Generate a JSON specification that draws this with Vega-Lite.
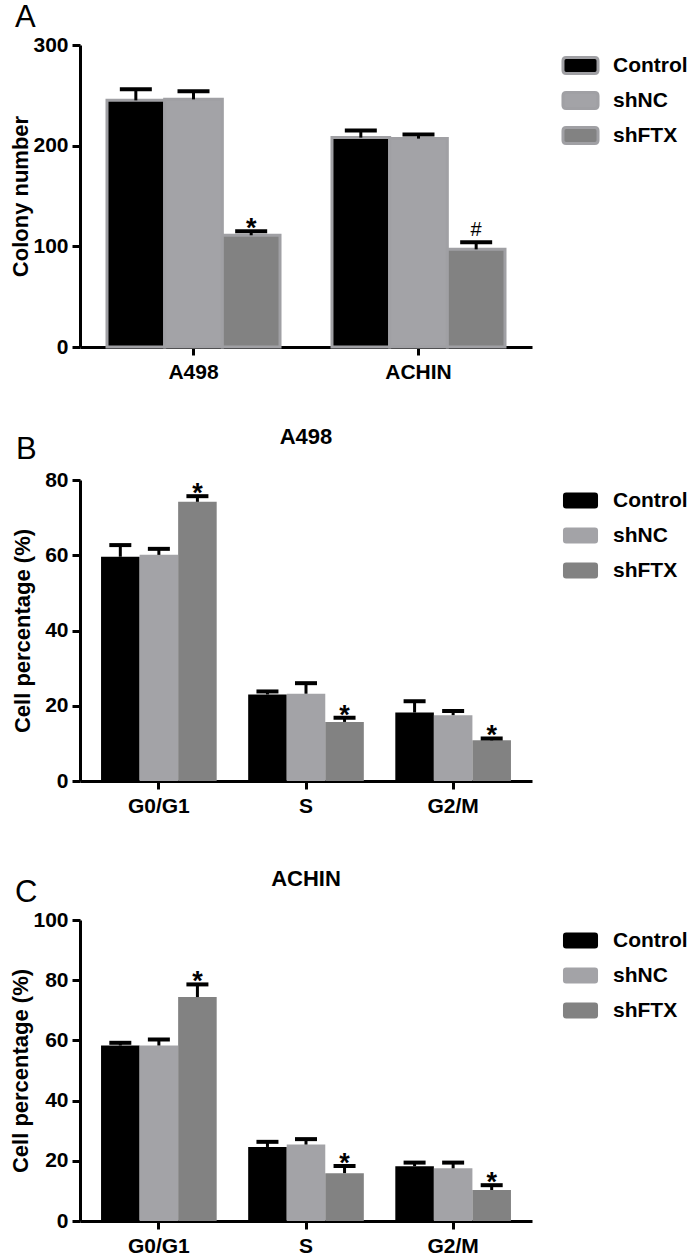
{
  "$schema": "https://vega.github.io/schema/vega-lite/v6.json",
  "padding": {"left": 9, "top": 2, "right": 0, "bottom": 0},
  "background": "white",
  "config": {
    "font": "Liberation Sans",
    "view": {"stroke": null},
    "axis": {
      "domainColor": "black", "domainWidth": 3, "tickColor": "black", "tickWidth": 3, "tickSize": 8,
      "labelFontSize": 21, "labelFontWeight": "bold", "labelColor": "black",
      "titleFontSize": 22, "titleFontWeight": "bold", "titleColor": "black", "grid": false
    },
    "legend": {
      "title": null, "orient": "right", "offset": 28, "padding": 10,
      "symbolType": "M-1.8,-1H1.8Q2.19,-1 2.19,-0.6V0.6Q2.19,1 1.8,1H-1.8Q-2.19,1 -2.19,0.6V-0.6Q-2.19,-1 -1.8,-1Z",
      "symbolSize": 256, "symbolOpacity": 1, "labelFontSize": 21, "labelFontWeight": "bold", "labelColor": "black",
      "labelOffset": 22, "rowPadding": 13, "symbolStrokeWidth": 0
    }
  },
  "resolve": {"scale": {"color": "independent", "xOffset": "independent"}, "legend": {"color": "independent"}},
  "spacing": 44,
  "datasets": {
    "colony": [
      {"cell": "A498", "group": "Control", "value": 245, "upper": 256, "sig": ""},
      {"cell": "A498", "group": "shNC", "value": 246, "upper": 254, "sig": ""},
      {"cell": "A498", "group": "shFTX", "value": 111, "upper": 115, "sig": "*"},
      {"cell": "ACHIN", "group": "Control", "value": 208, "upper": 215, "sig": ""},
      {"cell": "ACHIN", "group": "shNC", "value": 207, "upper": 211, "sig": ""},
      {"cell": "ACHIN", "group": "shFTX", "value": 97, "upper": 104, "sig": "#"}
    ],
    "a498": [
      {"phase": "G0/G1", "group": "Control", "value": 59.6, "upper": 62.7, "sig": ""},
      {"phase": "G0/G1", "group": "shNC", "value": 60.1, "upper": 61.7, "sig": ""},
      {"phase": "G0/G1", "group": "shFTX", "value": 74.2, "upper": 75.7, "sig": "*"},
      {"phase": "S", "group": "Control", "value": 23.0, "upper": 23.8, "sig": ""},
      {"phase": "S", "group": "shNC", "value": 23.2, "upper": 26.0, "sig": ""},
      {"phase": "S", "group": "shFTX", "value": 15.7, "upper": 16.8, "sig": "*"},
      {"phase": "G2/M", "group": "Control", "value": 18.2, "upper": 21.2, "sig": ""},
      {"phase": "G2/M", "group": "shNC", "value": 17.5, "upper": 18.6, "sig": ""},
      {"phase": "G2/M", "group": "shFTX", "value": 10.8, "upper": 11.3, "sig": "*"}
    ],
    "achin": [
      {"phase": "G0/G1", "group": "Control", "value": 58.3, "upper": 59.2, "sig": ""},
      {"phase": "G0/G1", "group": "shNC", "value": 58.3, "upper": 60.3, "sig": ""},
      {"phase": "G0/G1", "group": "shFTX", "value": 74.4, "upper": 78.6, "sig": "*"},
      {"phase": "S", "group": "Control", "value": 24.6, "upper": 26.3, "sig": ""},
      {"phase": "S", "group": "shNC", "value": 25.4, "upper": 27.2, "sig": ""},
      {"phase": "S", "group": "shFTX", "value": 15.9, "upper": 18.3, "sig": "*"},
      {"phase": "G2/M", "group": "Control", "value": 18.2, "upper": 19.4, "sig": ""},
      {"phase": "G2/M", "group": "shNC", "value": 17.5, "upper": 19.4, "sig": ""},
      {"phase": "G2/M", "group": "shFTX", "value": 10.3, "upper": 11.9, "sig": "*"}
    ]
  },
  "vconcat": [
    {
      "title": {"text": "A", "anchor": "start", "frame": "bounds", "fontSize": 31, "fontWeight": "normal", "color": "black", "offset": 0, "dx": 5},
      "vconcat": [
        {
          "width": 452, "height": 302,
          "data": {"name": "colony"},
          "encoding": {
            "x": {"field": "cell", "type": "nominal", "sort": ["A498", "ACHIN"],
                  "scale": {"paddingInner": 0.231, "paddingOuter": 0.12},
                  "axis": {"title": null, "labelAngle": 0, "labelPadding": 6, "minExtent": 35}},
            "xOffset": {"field": "group", "type": "nominal", "sort": ["Control", "shNC", "shFTX"],
                        "scale": {"paddingInner": 0, "paddingOuter": 0}}
          },
          "layer": [
            {
              "mark": {"type": "bar", "stroke": "#a0a0a4", "strokeWidth": 3},
              "encoding": {
                "y": {"field": "value", "type": "quantitative", "scale": {"domain": [0, 300]},
                      "axis": {"title": "Colony number", "values": [0, 100, 200, 300], "labelPadding": 4, "titlePadding": 0, "minExtent": 46}},
                "color": {"field": "group", "type": "nominal", "sort": ["Control", "shNC", "shFTX"],
                          "scale": {"domain": ["Control", "shNC", "shFTX"], "range": ["#000000", "#a3a3a7", "#828282"]},
                          "legend": {"symbolStrokeColor": "#a0a0a4", "symbolStrokeWidth": 3, "rowPadding": 6}}
              }
            },
            {
              "mark": {"type": "rule", "color": "black", "strokeWidth": 3},
              "encoding": {"y": {"field": "value", "type": "quantitative"}, "y2": {"field": "upper"}}
            },
            {
              "mark": {"type": "tick", "orient": "horizontal", "color": "black", "thickness": 4, "size": 32, "opacity": 1},
              "encoding": {"y": {"field": "upper", "type": "quantitative"}}
            },
            {
              "transform": [{"filter": "datum.sig == '*'"}],
              "mark": {"type": "text", "baseline": "alphabetic", "fontSize": 27, "fontWeight": "bold", "color": "black", "dy": 6},
              "encoding": {"y": {"field": "upper", "type": "quantitative"}, "text": {"field": "sig"}}
            },
            {
              "transform": [{"filter": "datum.sig == '#'"}],
              "mark": {"type": "text", "baseline": "alphabetic", "fontSize": 20, "fontWeight": "normal", "color": "black", "dy": -6},
              "encoding": {"y": {"field": "upper", "type": "quantitative"}, "text": {"field": "sig"}}
            }
          ]
        }
      ]
    },
    {
      "title": {"text": "B", "anchor": "start", "frame": "bounds", "fontSize": 31, "fontWeight": "normal", "color": "black", "offset": -40, "dx": 5},
      "vconcat": [
        {
          "width": 452, "height": 301,
          "title": {"text": "A498", "fontSize": 22, "fontWeight": "bold", "color": "black", "anchor": "middle", "offset": 20},
          "data": {"name": "a498"},
          "encoding": {
            "x": {"field": "phase", "type": "nominal", "sort": ["G0/G1", "S", "G2/M"],
                  "scale": {"paddingInner": 0.214, "paddingOuter": 0.143},
                  "axis": {"title": null, "labelAngle": 0, "labelPadding": 6, "minExtent": 43}},
            "xOffset": {"field": "group", "type": "nominal", "sort": ["Control", "shNC", "shFTX"],
                        "scale": {"paddingInner": 0, "paddingOuter": 0}}
          },
          "layer": [
            {
              "mark": {"type": "bar"},
              "encoding": {
                "y": {"field": "value", "type": "quantitative", "scale": {"domain": [0, 80]},
                      "axis": {"title": "Cell percentage (%)", "values": [0, 20, 40, 60, 80], "labelPadding": 4, "titlePadding": 0, "minExtent": 46}},
                "color": {"field": "group", "type": "nominal", "sort": ["Control", "shNC", "shFTX"],
                          "scale": {"domain": ["Control", "shNC", "shFTX"], "range": ["#000000", "#a3a3a7", "#828282"]}}
              }
            },
            {
              "mark": {"type": "rule", "color": "black", "strokeWidth": 3},
              "encoding": {"y": {"field": "value", "type": "quantitative"}, "y2": {"field": "upper"}}
            },
            {
              "mark": {"type": "tick", "orient": "horizontal", "color": "black", "thickness": 4, "size": 22, "opacity": 1},
              "encoding": {"y": {"field": "upper", "type": "quantitative"}}
            },
            {
              "transform": [{"filter": "datum.sig == '*'"}],
              "mark": {"type": "text", "baseline": "alphabetic", "fontSize": 27, "fontWeight": "bold", "color": "black", "dy": 6},
              "encoding": {"y": {"field": "upper", "type": "quantitative"}, "text": {"field": "sig"}}
            }
          ]
        }
      ]
    },
    {
      "title": {"text": "C", "anchor": "start", "frame": "bounds", "fontSize": 31, "fontWeight": "normal", "color": "black", "offset": -41, "dx": 5},
      "vconcat": [
        {
          "width": 452, "height": 301,
          "title": {"text": "ACHIN", "fontSize": 22, "fontWeight": "bold", "color": "black", "anchor": "middle", "offset": 18},
          "data": {"name": "achin"},
          "encoding": {
            "x": {"field": "phase", "type": "nominal", "sort": ["G0/G1", "S", "G2/M"],
                  "scale": {"paddingInner": 0.214, "paddingOuter": 0.143},
                  "axis": {"title": null, "labelAngle": 0, "labelPadding": 6}},
            "xOffset": {"field": "group", "type": "nominal", "sort": ["Control", "shNC", "shFTX"],
                        "scale": {"paddingInner": 0, "paddingOuter": 0}}
          },
          "layer": [
            {
              "mark": {"type": "bar"},
              "encoding": {
                "y": {"field": "value", "type": "quantitative", "scale": {"domain": [0, 100]},
                      "axis": {"title": "Cell percentage (%)", "values": [0, 20, 40, 60, 80, 100], "labelPadding": 4, "titlePadding": 0, "minExtent": 46}},
                "color": {"field": "group", "type": "nominal", "sort": ["Control", "shNC", "shFTX"],
                          "scale": {"domain": ["Control", "shNC", "shFTX"], "range": ["#000000", "#a3a3a7", "#828282"]}}
              }
            },
            {
              "mark": {"type": "rule", "color": "black", "strokeWidth": 3},
              "encoding": {"y": {"field": "value", "type": "quantitative"}, "y2": {"field": "upper"}}
            },
            {
              "mark": {"type": "tick", "orient": "horizontal", "color": "black", "thickness": 4, "size": 22, "opacity": 1},
              "encoding": {"y": {"field": "upper", "type": "quantitative"}}
            },
            {
              "transform": [{"filter": "datum.sig == '*'"}],
              "mark": {"type": "text", "baseline": "alphabetic", "fontSize": 27, "fontWeight": "bold", "color": "black", "dy": 6},
              "encoding": {"y": {"field": "upper", "type": "quantitative"}, "text": {"field": "sig"}}
            }
          ]
        }
      ]
    }
  ]
}
